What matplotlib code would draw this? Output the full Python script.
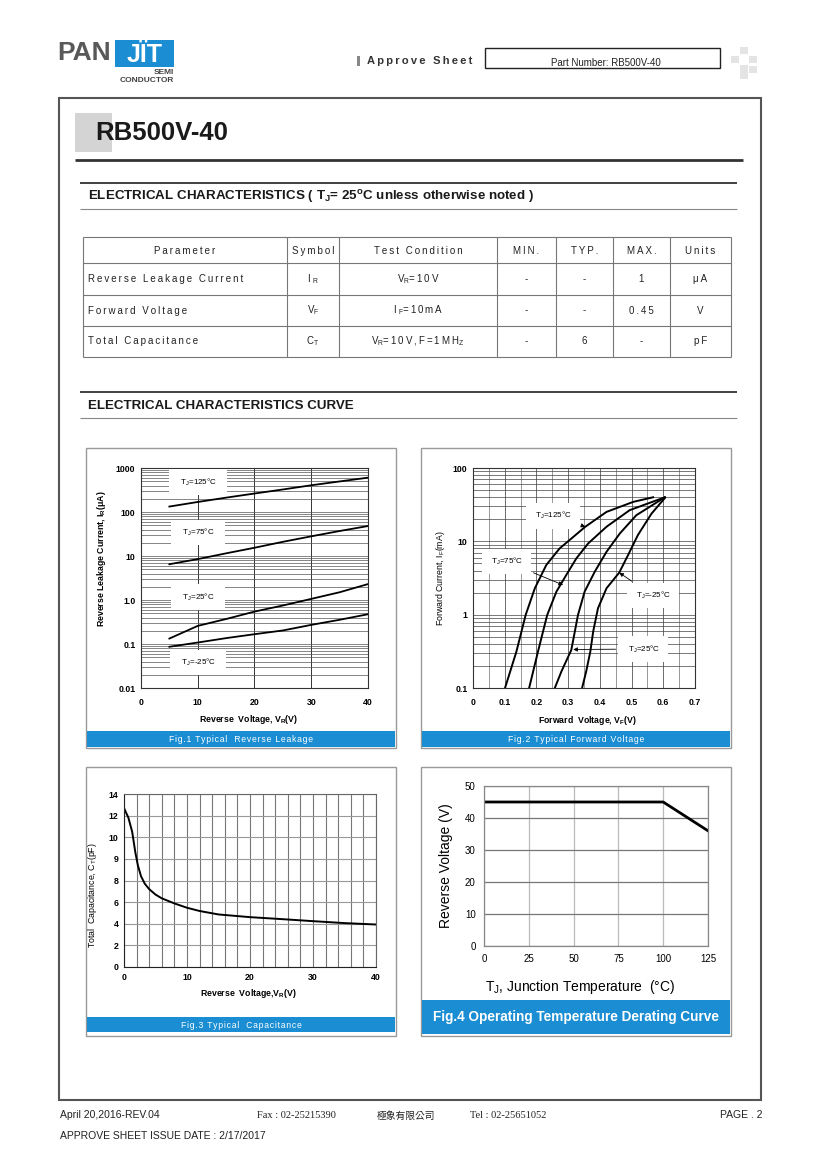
import numpy as np
import matplotlib
matplotlib.use("Agg")
import matplotlib.pyplot as plt
from matplotlib.patches import Rectangle
from matplotlib.ticker import LogLocator, NullFormatter, FixedLocator

plt.rcParams['font.family'] = ['Liberation Sans', 'DejaVu Sans', 'Noto Sans CJK TC']
plt.rcParams['mathtext.default'] = 'regular'

# ---------------- data ----------------
# Fig.1 reverse leakage (uA) vs reverse voltage (V)
fig1_v = [5, 10, 15, 20, 25, 30, 35, 40]
fig1_125 = [133, 169, 212, 263, 325, 405, 495, 603]
fig1_75 = [6.5, 8.5, 11.5, 15.4, 21, 28, 37, 48]
fig1_25 = [0.133, 0.258, 0.37, 0.545, 0.75, 1.06, 1.5, 2.3]
fig1_m25 = [0.0865, 0.108, 0.136, 0.167, 0.203, 0.272, 0.355, 0.475]
fig1_labels = ["T$_J$=125°C", "T$_J$=75°C", "T$_J$=25°C", "T$_J$=-25°C"]
fig1_label_y = [480, 34, 1.15, 0.038]

# Fig.2 forward current (mA) vs forward voltage (V)
fig2_125_v = [0.101, 0.137, 0.166, 0.195, 0.231, 0.273, 0.31, 0.354, 0.421, 0.505, 0.568]
fig2_125_i = [0.1, 0.315, 0.99, 2.29, 4.75, 8.0, 10.9, 15.8, 25.2, 34.5, 39.9]
fig2_75_v = [0.177, 0.205, 0.234, 0.263, 0.294, 0.326, 0.363, 0.421, 0.494, 0.605]
fig2_75_i = [0.1, 0.315, 0.99, 2.06, 3.47, 5.86, 9.35, 15.8, 26.6, 39.9]
fig2_25_v = [0.258, 0.279, 0.31, 0.331, 0.352, 0.384, 0.421, 0.463, 0.515, 0.605]
fig2_25_i = [0.1, 0.169, 0.33, 0.99, 2.06, 3.86, 7.2, 12.8, 22.7, 39.9]
fig2_m25_v = [0.344, 0.357, 0.37, 0.379, 0.394, 0.421, 0.461, 0.489, 0.52, 0.563, 0.605]
fig2_m25_i = [0.1, 0.169, 0.315, 0.59, 1.22, 2.29, 3.74, 6.5, 12.2, 23.9, 39]

# Fig.3 capacitance (pF) vs reverse voltage (V)
fig3_v = [0, 0.7, 1.3, 1.8, 2.2, 2.7, 3.3, 4, 5, 6, 8, 10, 12, 15, 20, 25, 30, 35, 40]
fig3_c = [12.7, 11.8, 10.5, 9.3, 8.7, 8.2, 7.7, 7.2, 6.7, 6.35, 5.88, 5.48, 5.18,
          4.86, 4.61, 4.43, 4.24, 4.06, 3.93]
fig3_yticks = [0, 2, 4, 6, 8, 9, 10, 12, 14]

# Fig.4 derating
fig4_t = [0, 100, 125]
fig4_v = [45, 45, 36]

# table
tbl_header = ["Parameter", "Symbol", "Test Condition", "MIN.", "TYP.", "MAX.", "Units"]
tbl_rows = [
    ["Reverse Leakage Current", "I$_{\\ R}$", "V$_R$=10V", "-", "-", "1", "μA"],
    ["Forward Voltage", "V$_F$", "I$_{\\ F}$=10mA", "-", "-", "0.45", "V"],
    ["Total Capacitance", "C$_T$", "V$_R$=10V,F=1MH$_Z$", "-", "6", "-", "pF"],
]

BLUE = '#1a8dd3'
W, H = 820, 1160
fig = plt.figure(figsize=(W / 100, H / 100), dpi=100)
bg = fig.add_axes([0, 0, 1, 1])
bg.set_xlim(0, W)
bg.set_ylim(H, 0)
bg.axis('off')


def spaced(s, sp='\u2009'):
    out, inmath = [], False
    for k, ch in enumerate(s):
        out.append(ch)
        if ch == '$':
            inmath = not inmath
        if not inmath and ch != '$' and k < len(s) - 1 and s[k + 1] != '$':
            out.append(sp)
    return ''.join(out)


def hl(x0, x1, y, lw=1.0, c='#333'):
    bg.plot([x0, x1], [y, y], color=c, lw=lw, solid_capstyle='butt')


def vl(x, y0, y1, lw=1.0, c='#333'):
    bg.plot([x, x], [y0, y1], color=c, lw=lw, solid_capstyle='butt')


def box(x0, y0, x1, y1, fc='none', ec='none', lw=1.0):
    bg.add_patch(Rectangle((x0, y0), x1 - x0, y1 - y0, fc=fc, ec=ec, lw=lw))


def txt(x, y, s, size=8, ha='left', va='center', **kw):
    bg.text(x, y, s, fontsize=size, ha=ha, va=va, **kw)


def mkax(x0, y0, x1, y1):
    return fig.add_axes([x0 / W, 1 - y1 / H, (x1 - x0) / W, (y1 - y0) / H])


# ---------------- header ----------------
txt(57, 53, "PAN", 19, weight='bold', color='#595959')
box(115, 40, 174, 67, fc=BLUE)
txt(144.5, 55, "JÏT", 18, ha='center', weight='bold', color='white')
txt(174, 72, "SEMI", 6, ha='right', weight='bold', color='#444')
txt(174, 80, "CONDUCTOR", 6, ha='right', weight='bold', color='#444')
box(357, 56, 360, 66, fc='#888')
txt(367, 61, spaced("Approve Sheet"), 8, weight='bold', color='#333')
box(485, 48, 720, 68, ec='#222', lw=1.0)
txt(606, 63, "Part Number: RB500V-40", 7, ha='center', color='#222')
for (qx, qy) in [(740, 47), (731, 56), (749, 56), (740, 65), (749, 66), (740, 72)]:
    box(qx, qy, qx + 8, qy + 7, fc='#e4e4e4')

# page frame
box(59, 98, 761, 1100, ec='#555', lw=1.5)

# title
box(75, 113, 112, 152, fc='#d4d4d4')
txt(95, 133, "RB500V-40", 18.5, weight='bold', color='#1a1a1a')
hl(75, 743, 160, 2.0, '#333')

# section 1
hl(80, 737, 183, 1.3, '#333')
hl(80, 737, 209, 0.8, '#888')
txt(88, 197, "ELECTRICAL CHARACTERISTICS ( T$_J$= 25$^o$C unless otherwise noted )",
    9.6, weight='bold', color='#1a1a1a')

# table
cols = [83, 287, 339, 497, 556, 613, 670, 731]
rows = [237, 263, 295, 326, 357]
for y in rows:
    hl(cols[0], cols[-1], y, 0.8, '#777')
for x in cols:
    vl(x, rows[0], rows[-1], 0.8, '#777')
for j, h in enumerate(tbl_header):
    txt((cols[j] + cols[j + 1]) / 2, (rows[0] + rows[1]) / 2 + 1, spaced(h), 7.0,
        ha='center', color='#222')
for i, r in enumerate(tbl_rows):
    yc = (rows[i + 1] + rows[i + 2]) / 2
    for j, s in enumerate(r):
        if j == 0:
            txt(88, yc, spaced(s), 7.0, color='#222')
        else:
            txt((cols[j] + cols[j + 1]) / 2, yc, spaced(s), 7.0, ha='center', color='#222')

# section 2
hl(80, 737, 392, 1.3, '#333')
hl(80, 737, 418, 0.8, '#888')
txt(88, 406, "ELECTRICAL CHARACTERISTICS CURVE", 9.6, weight='bold', color='#1a1a1a')

# panels and caption bands
panels = [(86, 448, 396, 748), (421, 448, 731, 748), (86, 767, 396, 1036), (421, 767, 731, 1036)]
for (x0, y0, x1, y1) in panels:
    box(x0, y0, x1, y1, fc='white', ec='#999', lw=1.0)
box(87, 731, 395, 747, fc=BLUE)
txt(241, 739, spaced("Fig.1 Typical  Reverse Leakage", '\u200a'), 6.2, ha='center', color='white')
box(422, 731, 730, 747, fc=BLUE)
txt(576, 739, spaced("Fig.2 Typical Forward Voltage", '\u200a'), 6.2, ha='center', color='white')
box(87, 1017, 395, 1032, fc=BLUE)
txt(241, 1025, spaced("Fig.3 Typical  Capacitance", '\u200a'), 6.2, ha='center', color='white')
box(422, 1000, 730, 1034, fc=BLUE)
txt(576, 1017, "Fig.4 Operating Temperature Derating Curve", 9.8, ha='center',
    weight='bold', color='white')

# footer
txt(60, 1115, "April 20,2016-REV.04", 7.5, color='#222')
txt(257, 1116, "Fax : 02-25215390", 7.5, family=['Liberation Serif', 'Noto Sans CJK TC'], color='#222')
txt(377, 1116, "極象有限公司", 7, family=['Noto Sans CJK TC'], color='#222')
txt(470, 1116, "Tel : 02-25651052", 7.5, family=['Liberation Serif', 'Noto Sans CJK TC'], color='#222')
txt(763, 1115, "PAGE . 2", 7.5, ha='right', color='#222')
txt(60, 1136, "APPROVE SHEET ISSUE DATE : 2/17/2017", 7.5, color='#222')

# ---------------- Fig.1 ----------------
a1 = mkax(141, 468, 368, 688)
a1.set_yscale('log')
a1.set_xlim(0, 40)
a1.set_ylim(0.01, 1000)
a1.yaxis.set_minor_locator(LogLocator(base=10, subs=np.arange(2, 10)))
a1.yaxis.set_minor_formatter(NullFormatter())
a1.set_yticks([0.01, 0.1, 1, 10, 100, 1000])
a1.set_yticklabels(['0.01', '0.1', '1.0', '10', '100', '1000'])
a1.set_xticks([0, 10, 20, 30, 40])
a1.grid(which='both', axis='y', color='#555', lw=0.5)
a1.grid(which='major', axis='x', color='#333', lw=0.7)
a1.tick_params(which='both', length=0, labelsize=6.3, pad=4)
a1.tick_params(axis='x', pad=7)
for t in a1.get_xticklabels() + a1.get_yticklabels():
    t.set_fontweight('bold')
for s in a1.spines.values():
    s.set_color('#333')
    s.set_linewidth(0.8)
for ys in [fig1_125, fig1_75, fig1_25, fig1_m25]:
    a1.plot(fig1_v, ys, color='black', lw=1.3)
for lab, ly in zip(fig1_labels, fig1_label_y):
    a1.text(10, ly, "  " + lab + "  ", fontsize=5.8, ha='center', va='center',
            bbox=dict(boxstyle='square,pad=0.9', fc='white', ec='none'))
a1.set_xlabel("Reverse  Voltage, V$_R$(V)", fontsize=6.3, weight='bold')
a1.xaxis.set_label_coords(0.476, (688 - 713) / 220)
a1.set_ylabel("Reverse Leakage Current, I$_R$(μA)", fontsize=6.3, weight='bold')
a1.yaxis.set_label_coords((108 - 141) / 227, 0.59)

# ---------------- Fig.2 ----------------
a2 = mkax(473, 468, 695, 688)
a2.set_yscale('log')
a2.set_xlim(0, 0.7)
a2.set_ylim(0.1, 100)
a2.yaxis.set_minor_locator(LogLocator(base=10, subs=np.arange(2, 10)))
a2.yaxis.set_minor_formatter(NullFormatter())
a2.set_yticks([0.1, 1, 10, 100])
a2.set_yticklabels(['0.1', '1', '10', '100'])
a2.set_xticks([0, 0.1, 0.2, 0.3, 0.4, 0.5, 0.6, 0.7])
a2.set_xticklabels(['0', '0.1', '0.2', '0.3', '0.4', '0.5', '0.6', '0.7'])
a2.xaxis.set_minor_locator(FixedLocator(np.arange(0.05, 0.7, 0.1)))
a2.grid(which='both', axis='y', color='#444', lw=0.5)
a2.grid(which='major', axis='x', color='#555', lw=0.6)
a2.grid(which='minor', axis='x', color='#888', lw=0.6)
a2.tick_params(which='both', length=0, labelsize=6.3, pad=4)
a2.tick_params(axis='x', pad=7)
for t in a2.get_xticklabels() + a2.get_yticklabels():
    t.set_fontweight('bold')
for s in a2.spines.values():
    s.set_color('#333')
    s.set_linewidth(0.8)
for vs, iis in [(fig2_125_v, fig2_125_i), (fig2_75_v, fig2_75_i),
                (fig2_25_v, fig2_25_i), (fig2_m25_v, fig2_m25_i)]:
    a2.plot(vs, iis, color='black', lw=1.4)
bb = dict(boxstyle='square,pad=0.9', fc='white', ec='none')
ap = dict(arrowstyle='-|>', color='black', lw=0.6, mutation_scale=6, shrinkA=2, shrinkB=0)
a2.annotate(" T$_J$=125°C ", xy=(0.354, 15.8), xytext=(0.252, 22.3), fontsize=5.8,
            ha='center', va='center', bbox=bb, arrowprops=ap)
a2.annotate(" T$_J$=75°C ", xy=(0.284, 2.54), xytext=(0.105, 5.3), fontsize=5.8,
            ha='center', va='center', bbox=bb, arrowprops=ap)
a2.annotate(" T$_J$=-25°C ", xy=(0.461, 3.74), xytext=(0.568, 1.82), fontsize=5.8,
            ha='center', va='center', bbox=bb, arrowprops=ap)
a2.annotate(" T$_J$=25°C ", xy=(0.316, 0.335), xytext=(0.536, 0.34), fontsize=5.8,
            ha='center', va='center', bbox=bb, arrowprops=ap)
a2.set_xlabel("Forward  Voltage, V$_F$(V)", fontsize=6.3, weight='bold')
a2.xaxis.set_label_coords((588 - 473) / 222, (688 - 714) / 220)
a2.set_ylabel("Forward Current, I$_F$(mA)", fontsize=6.3)
a2.yaxis.set_label_coords((447 - 473) / 222, 0.5)

# ---------------- Fig.3 ----------------
pos = np.arange(len(fig3_yticks), dtype=float)
fwd = lambda v: np.interp(v, fig3_yticks, pos)
inv = lambda p: np.interp(p, pos, fig3_yticks)
a3 = mkax(124, 794, 376, 967)
a3.set_yscale('function', functions=(fwd, inv))
a3.set_xlim(0, 40)
a3.set_ylim(0, 14)
a3.set_yticks(fig3_yticks)
a3.set_yticklabels([str(v) for v in fig3_yticks])
a3.set_xticks([0, 10, 20, 30, 40])
a3.xaxis.set_minor_locator(FixedLocator(np.arange(2, 40, 2)))
a3.grid(which='major', axis='y', color='#999', lw=0.8)
a3.grid(which='both', axis='x', color='#777', lw=0.8)
a3.tick_params(which='both', length=0, labelsize=6.3, pad=4)
a3.tick_params(axis='x', pad=4)
for t in a3.get_xticklabels() + a3.get_yticklabels():
    t.set_fontweight('bold')
for s in a3.spines.values():
    s.set_color('#666')
    s.set_linewidth(0.8)
a3.spines['left'].set_color('#222')
a3.spines['bottom'].set_color('#222')
a3.plot(fig3_v, fig3_c, color='black', lw=1.4)
a3.set_xlabel("Reverse  Voltage,V$_R$(V)", fontsize=6.3, weight='bold')
a3.xaxis.set_label_coords((248 - 124) / 252, (967 - 987) / 173)
a3.set_ylabel("Total  Capacitance, C$_T$(pF)", fontsize=6.3)
a3.yaxis.set_label_coords((99 - 124) / 252, (967 - 895) / 173)

# ---------------- Fig.4 ----------------
a4 = mkax(484, 786, 708, 946)
a4.set_xlim(0, 125)
a4.set_ylim(0, 50)
a4.set_xticks([0, 25, 50, 75, 100, 125])
a4.set_yticks([0, 10, 20, 30, 40, 50])
a4.grid(axis='y', color='#777', lw=0.9)
a4.grid(axis='x', color='#bbb', lw=0.9)
a4.tick_params(length=0, labelsize=7, pad=6)
for s in a4.spines.values():
    s.set_color('#888')
    s.set_linewidth(0.9)
a4.plot(fig4_t, fig4_v, color='black', lw=2.0)
a4.set_xlabel("T$_J$, Junction Temperature  (°C)", fontsize=10)
a4.xaxis.set_label_coords((580 - 484) / 224, (946 - 978) / 160)
a4.set_ylabel("Reverse Voltage (V)", fontsize=10)
a4.yaxis.set_label_coords((453 - 484) / 224, (946 - 866) / 160)

fig.savefig("out.png", dpi=100)
